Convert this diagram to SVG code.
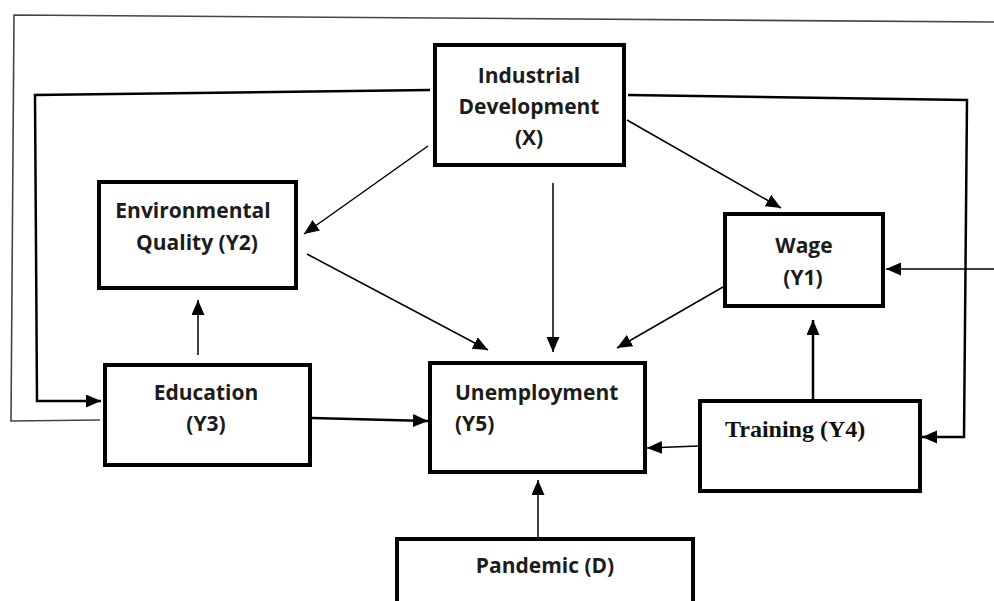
<svg xmlns="http://www.w3.org/2000/svg" width="994" height="601" viewBox="0 0 994 601">
<defs>
<marker id="ah" markerUnits="userSpaceOnUse" markerWidth="16" markerHeight="14" refX="15" refY="6.5" orient="auto"><path d="M0,0 L15,6.5 L0,13 z" fill="#000"/></marker>
<style>
.box{fill:#fff;stroke:#000;stroke-width:4}
.t{font-family:"Open Sans","Liberation Sans",sans-serif;font-weight:700;font-size:21px;fill:#1c1c1c;text-anchor:middle}
.ts{font-family:"Liberation Serif","Times New Roman",serif;font-weight:bold;font-size:24px;fill:#111}
.st{text-anchor:start}
.c{fill:none;stroke:#000;stroke-width:1.5}
.ck{fill:none;stroke:#000;stroke-width:2.5}
</style>
</defs>
<rect width="994" height="601" fill="#fff"/>
<g id="connectors">
<polyline points="100,420 11,421 14,15 994,22" fill="none" stroke="#444" stroke-width="1.6"/>
<polyline class="ck" points="430,90 35,95 37,401 101,401" marker-end="url(#ah)"/>
<polyline class="ck" points="628,95 967,100 964,437 922,437" marker-end="url(#ah)"/>
<line class="c" x1="994" y1="269" x2="886" y2="269" marker-end="url(#ah)"/>
<line class="c" x1="428" y1="146" x2="304" y2="234" marker-end="url(#ah)"/>
<line class="c" x1="553" y1="183" x2="553" y2="352" marker-end="url(#ah)"/>
<line class="c" x1="627" y1="120" x2="781" y2="208" marker-end="url(#ah)"/>
<line class="c" x1="307" y1="254" x2="488" y2="350" marker-end="url(#ah)"/>
<line class="c" x1="723" y1="287" x2="617" y2="348" marker-end="url(#ah)"/>
<line class="ck" x1="813" y1="399" x2="813" y2="320" marker-end="url(#ah)"/>
<line class="c" x1="698" y1="446" x2="647" y2="448" marker-end="url(#ah)"/>
<line class="c" x1="198" y1="355" x2="198" y2="300" marker-end="url(#ah)"/>
<line class="ck" x1="312" y1="418" x2="428" y2="421" marker-end="url(#ah)"/>
<line class="c" x1="538" y1="537" x2="538" y2="480" marker-end="url(#ah)"/>
</g>
<g id="industrial">
<rect class="box" x="435" y="45" width="189" height="120"/>
<text class="t" x="529" y="83">Industrial</text>
<text class="t" x="529" y="114">Development</text>
<text class="t" x="529" y="145">(X)</text>
</g>
<g id="environmental">
<rect class="box" x="99" y="182" width="197" height="106"/>
<text class="t" x="193" y="218">Environmental</text>
<text class="t" x="197" y="250">Quality (Y2)</text>
</g>
<g id="education">
<rect class="box" x="105" y="365" width="205" height="100"/>
<text class="t" x="206" y="400">Education</text>
<text class="t" x="206" y="431">(Y3)</text>
</g>
<g id="unemployment">
<rect class="box" x="430" y="363" width="215" height="109" stroke-width="6"/>
<text class="t st" x="455" y="400">Unemployment</text>
<text class="t st" x="455" y="431">(Y5)</text>
</g>
<g id="wage">
<rect class="box" x="725" y="214" width="158" height="92"/>
<text class="t" x="804" y="253">Wage</text>
<text class="t" x="803" y="285">(Y1)</text>
</g>
<g id="training">
<rect class="box" x="700" y="401" width="220" height="90"/>
<text class="ts" x="725" y="437">Training (Y4)</text>
</g>
<g id="pandemic">
<rect class="box" x="397" y="539" width="296" height="80"/>
<text class="t" x="545" y="573">Pandemic (D)</text>
</g>
</svg>
